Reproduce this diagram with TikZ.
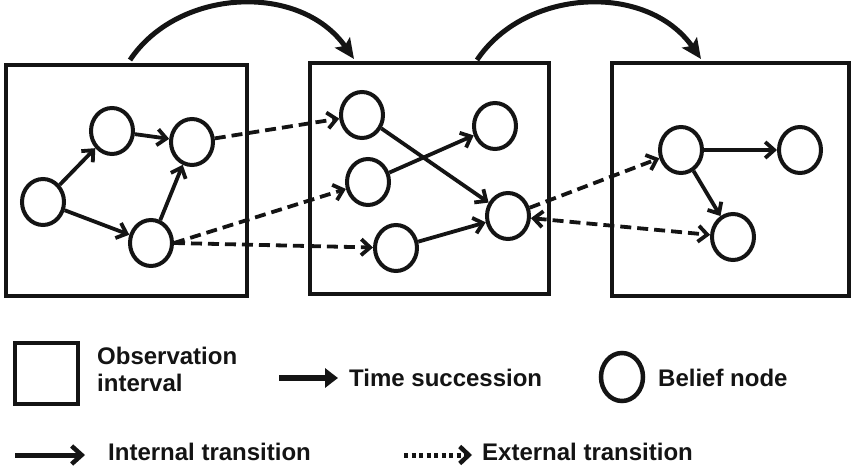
\documentclass[tikz,border=0pt]{standalone}
\usepackage{fontspec}
\setmainfont{Liberation Sans}
\usetikzlibrary{arrows.meta,shapes.geometric}

\definecolor{ink}{HTML}{141414}

\tikzset{
  barb/.tip={Straight Barb[length=9pt,width=16pt,line width=3.8pt]},
  obsbox/.style={draw=ink, line width=4.5pt, rectangle, inner sep=0pt},
  belief/.style={draw=ink, line width=4pt, ellipse, inner sep=0pt,
                 minimum width=42pt, minimum height=46pt},
  internal/.style={draw=ink, line width=3.8pt, -{barb}},
  external/.style={internal, dash pattern=on 11pt off 6pt},
  succession/.style={draw=ink, line width=5pt,
                     -{Stealth[length=20pt,width=18pt,inset=4pt]}},
  legendtext/.style={inner sep=0pt, anchor=west, text=ink,
                     font=\fontsize{24}{30}\selectfont\bfseries}
}

\begin{document}
\begin{tikzpicture}[x=1pt, y=-1pt]
  \useasboundingbox[fill=white] (0,0) rectangle (852,473);

  % observation intervals
  \node[obsbox, minimum width=241pt, minimum height=231pt] (box1) at (126.5,180.5) {};
  \node[obsbox, minimum width=239pt, minimum height=231pt] (box2) at (429.5,178.5) {};
  \node[obsbox, minimum width=237pt, minimum height=233pt] (box3) at (730.5,179.5) {};

  % belief nodes, first interval
  \node[belief] (a) at (43,202) {};
  \node[belief] (b) at (112,131) {};
  \node[belief] (c) at (192,142) {};
  \node[belief] (d) at (151,243) {};

  % belief nodes, second interval
  \node[belief] (e) at (362,115) {};
  \node[belief] (f) at (368,182) {};
  \node[belief] (g) at (396,248) {};
  \node[belief] (h) at (495,126) {};
  \node[belief] (i) at (508,216) {};

  % belief nodes, third interval
  \node[belief] (j) at (681,150) {};
  \node[belief] (k) at (800,150) {};
  \node[belief] (l) at (733,237) {};

  % internal transitions
  \draw[internal] (a) -- (b);
  \draw[internal] (a) -- (d);
  \draw[internal] (b) -- (c);
  \draw[internal] (d) -- (c);
  \draw[internal] (e) -- (i);
  \draw[internal] (f) -- (h);
  \draw[internal] (g) -- (i);
  \draw[internal] (j) -- (k);
  \draw[internal] (j) -- (l);

  % external transitions
  \draw[external] (c) -- (e);
  \draw[external] (d.east) -- (f);
  \draw[external] (d.east) -- (g);
  \draw[external] (i) -- (j);
  \draw[external, {barb}-{barb}] (i) -- (l);

  % time succession
  \coordinate (s1) at (130,60);
  \coordinate (t1) at (354,59);
  \coordinate (s2) at (477,60);
  \coordinate (t2) at (701,59);
  \draw[succession] (s1) .. controls (178,-12) and (300,-18) .. (t1);
  \draw[succession] (s2) .. controls (525,-12) and (647,-18) .. (t2);

  % legend, first row
  \node[obsbox, minimum width=63pt, minimum height=61pt] (lbox) at (46.5,373.5) {};
  \node[legendtext, align=left, anchor=north west] (lboxtext) at (97,347)
    {Observation\\[-3pt]interval};

  \coordinate (ts0) at (279,378);
  \coordinate (ts1) at (338,378);
  \node[legendtext] (tstext) at (349,378) {Time succession};
  \draw[draw=ink, line width=6.5pt, -{Triangle[length=13pt,width=19pt]}]
    (ts0) -- (ts1);

  \node[belief, line width=4.5pt, minimum width=42pt, minimum height=48pt] (lnode) at (622,377) {};
  \node[legendtext] (lnodetext) at (658,378) {Belief node};

  % legend, second row
  \coordinate (it0) at (15,455);
  \coordinate (it1) at (85,455);
  \node[legendtext] (ittext) at (108,452) {Internal transition};
  \draw[draw=ink, line width=5pt,
        -{Straight Barb[length=10pt,width=18pt,line width=4.5pt]}]
    (it0) -- (it1);

  \coordinate (et0) at (404,455);
  \coordinate (et1) at (472,455);
  \node[legendtext] (ettext) at (482,452) {External transition};
  \draw[draw=ink, line width=5pt, dash pattern=on 4pt off 3.5pt,
        -{Straight Barb[length=9pt,width=17pt,line width=4.5pt]}]
    (et0) -- (et1);
\end{tikzpicture}
\end{document}
